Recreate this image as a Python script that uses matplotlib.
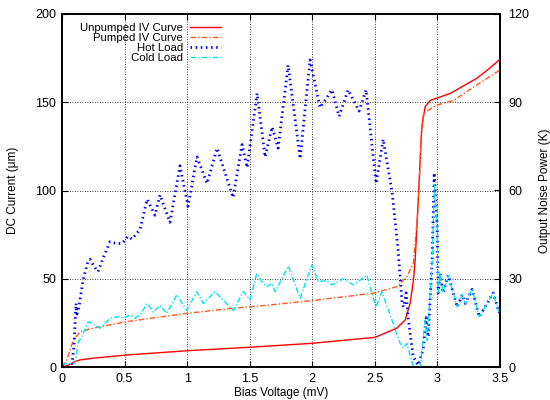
import matplotlib
matplotlib.use("Agg")
import matplotlib.pyplot as plt

plt.rcParams['font.family'] = ['Liberation Sans', 'DejaVu Sans']

# Unpumped IV curve (uA, left axis)
unpumped_v = [0.0, 0.048, 0.1, 0.144, 0.25, 0.517, 0.997, 1.503, 1.996, 2.502,
              2.675, 2.742, 2.782, 2.808, 2.822, 2.835, 2.875, 2.902, 2.942,
              3.102, 3.315, 3.395, 3.5]
unpumped_i = [0, 1, 3, 4, 5, 6.8, 9.2, 11.2, 13.4, 16.8,
              22, 26.6, 36, 49, 60.6, 78, 136, 147.5, 151,
              155, 163.6, 168, 174.3]

# Pumped IV curve (uA, left axis)
pumped_v = [0.0, 0.038, 0.09, 0.144, 0.25, 0.517, 0.997, 1.369, 1.583, 1.996,
            2.488, 2.675, 2.755, 2.808, 2.846, 2.87, 2.888, 2.995, 3.128,
            3.315, 3.5]
pumped_i = [0, 4, 15, 20, 22, 25.7, 30.4, 33.3, 34.6, 37.6,
            41.8, 45.5, 51, 59, 90, 130, 143.7, 148.4, 151,
            159.8, 168.3]

# Hot load noise power (K, right axis)
hot_v = [0.0, 0.048, 0.08, 0.096, 0.112, 0.12, 0.136, 0.168, 0.208, 0.224,
         0.256, 0.288, 0.336, 0.384, 0.432, 0.48, 0.528, 0.56, 0.624, 0.68,
         0.743, 0.783, 0.863, 0.943, 1.007, 1.079, 1.159, 1.239, 1.367, 1.439,
         1.479, 1.559, 1.623, 1.679, 1.727, 1.807, 1.903, 1.982, 2.062, 2.158,
         2.214, 2.286, 2.374, 2.43, 2.478, 2.51, 2.566, 2.638, 2.686, 2.718,
         2.73, 2.75, 2.766, 2.806, 2.846, 2.886, 2.91, 2.926, 2.958, 2.974,
         2.998, 3.006, 3.022, 3.045, 3.086, 3.158, 3.198, 3.222, 3.277, 3.333,
         3.381, 3.445, 3.493]
hot_k = [0.6, 0, 1.2, 7.2, 21.6, 18, 20.4, 29.4, 36, 36.6,
         34.2, 32.4, 37.8, 42.6, 42, 42, 44.4, 43.5, 46.8, 57,
         51.6, 58.5, 49.2, 68.4, 54.6, 71.4, 62.4, 74.4, 57.6, 75.6,
         67.8, 93, 71.4, 81.6, 74.4, 102.6, 70.8, 104.4, 88.2, 94.2,
         85.2, 94.2, 87, 94.2, 75, 62.4, 77.4, 59.4, 39.6, 21.6,
         20.4, 25.2, 16.8, 3.6, 0.6, 6, 16.8, 10.2, 36.6, 66,
         48, 25.2, 31.8, 25.2, 31.2, 20.4, 24.6, 21.6, 26.4, 17.1,
         20.4, 25.2, 18.4]

# Cold load noise power (K, right axis)
cold_v = [0.0, 0.064, 0.104, 0.13, 0.157, 0.21, 0.304, 0.384, 0.45, 0.49,
          0.544, 0.584, 0.624, 0.682, 0.73, 0.783, 0.837, 0.917, 0.997, 1.077,
          1.13, 1.223, 1.369, 1.449, 1.503, 1.556, 1.596, 1.636, 1.676, 1.703,
          1.809, 1.903, 1.996, 2.048, 2.116, 2.156, 2.249, 2.329, 2.436, 2.476,
          2.51, 2.556, 2.608, 2.702, 2.729, 2.755, 2.808, 2.862, 2.902, 2.918,
          2.958, 2.976, 2.998, 3.006, 3.022, 3.045, 3.086, 3.158, 3.198, 3.222,
          3.277, 3.333, 3.381, 3.445, 3.493]
cold_k = [1, 1.2, 1.2, 8.4, 10.2, 15.4, 13.2, 16.6, 17.1, 16.6,
          17.7, 16.6, 17.7, 21.6, 18.6, 21, 18.2, 24.5, 19.2, 25.6,
          21.6, 25.6, 19.2, 25.6, 22.8, 31.8, 29, 27.3, 28.4, 25.6,
          34.3, 23.4, 34.7, 29, 29.4, 27.9, 30, 27.9, 31.2, 25.1,
          20.4, 25.6, 19.4, 8, 6.4, 8, 0, 0, 16, 9,
          36, 62, 46, 25.2, 31.8, 25.2, 31.2, 20.4, 24.6, 21.6,
          26.4, 17.1, 20.4, 25.2, 18.4]

fig = plt.figure(figsize=(5.5, 4), dpi=100)
ax = fig.add_axes([0.1127, 0.0825, 0.7964, 0.8825])
ax2 = ax.twinx()

l1, = ax.plot(unpumped_v, unpumped_i, color='#ff0000', lw=1.0, label='Unpumped IV Curve')
l2, = ax.plot(pumped_v, pumped_i, color='#ff5a1e', lw=1.0,
              linestyle=(0, (4, 1.5, 1, 1.5)), label='Pumped IV Curve')
l3, = ax2.plot(hot_v, hot_k, color='#0000ff', lw=2.0,
               linestyle=(0, (0.55, 1.3)), label='Hot Load')
l4, = ax2.plot(cold_v, cold_k, color='#00e5ee', lw=1.0,
               linestyle=(0, (4, 1.5, 1, 1.5)), label='Cold Load')

ax.set_xlim(0, 3.5)
ax.set_ylim(0, 200)
ax2.set_ylim(0, 120)
ax.set_xticks([0, 0.5, 1, 1.5, 2, 2.5, 3, 3.5])
ax.set_xticklabels(['0', '0.5', '1', '1.5', '2', '2.5', '3', '3.5'])
ax.set_yticks([0, 50, 100, 150, 200])
ax2.set_yticks([0, 30, 60, 90, 120])

ax.grid(True, color='black', linestyle=(0, (1, 2)), linewidth=0.6)
ax.tick_params(direction='in', length=4, width=0.8, labelsize=9, top=True, right=False, pad=4)
ax2.tick_params(direction='in', length=4, width=0.8, labelsize=9, pad=6)
for a in (ax, ax2):
    for s in a.spines.values():
        s.set_linewidth(1.2)

ax.set_xlabel('Bias Voltage (mV)', fontsize=8.5, labelpad=2)
ax.set_ylabel('DC Current (\u03bcm)', fontsize=8.5, labelpad=12)
ax2.set_ylabel('Output Noise Power (K)', fontsize=8.5)
ax2.yaxis.set_label_coords(1.088, 0.5)

ax.legend(handles=[l1, l2, l3, l4], loc='upper left', bbox_to_anchor=(0.021, 1.0),
          markerfirst=False, frameon=False, fontsize=8.2, labelspacing=0.0,
          handlelength=2.7, handletextpad=0.6, borderpad=0.3)

fig.savefig('out.png', dpi=100)
